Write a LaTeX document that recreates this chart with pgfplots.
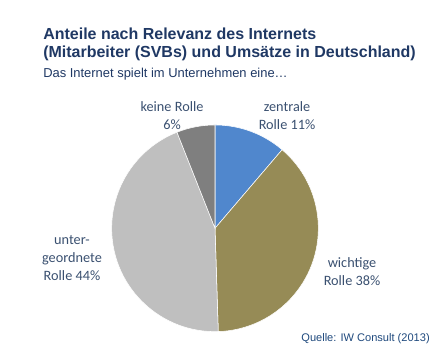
\documentclass[border=0pt]{standalone}
\usepackage{pgfplots}
\usepackage{pgfplotstable}
\pgfplotsset{compat=1.18}
\usepackage{fontspec}
\setmainfont{Liberation Sans}
\newfontfamily\calfont{Carlito}
\definecolor{cBlue}{RGB}{80,135,205}
\definecolor{cOlive}{RGB}{150,139,86}
\definecolor{cLight}{RGB}{191,191,191}
\definecolor{cDark}{RGB}{127,127,127}
\definecolor{titlec}{RGB}{31,56,100}
\definecolor{labc}{RGB}{58,80,112}
\definecolor{srcc}{RGB}{31,73,125}
\newcommand\slicecolor[1]{\ifcase#1 cBlue\or cOlive\or cLight\or cDark\fi}
\pgfdeclareplotmark{nothing}{}

% share in %, slice start/end angle (degrees, clockwise from 12 o'clock), colour index
\pgfplotstableread{
x   y     share a0     a1      ci
215 134.7 11    90     49.5    0
215 134.7 38    49.5   -88.2   1
215 134.7 44    -88.2  -248.4  2
215 134.7 6     -248.4 -270    3
}\pietable

\begin{document}
\begin{tikzpicture}
\begin{axis}[
  x=0.75pt, y=0.75pt,
  xmin=0, xmax=438, ymin=0, ymax=363,
  scale only axis, hide axis, clip=false,
]
\path (axis cs:0,0) rectangle (axis cs:438,363);
\addplot[
  scatter, only marks,
  mark=nothing,
  visualization depends on={\thisrow{a0} \as \aS},
  visualization depends on={\thisrow{a1} \as \aE},
  visualization depends on={\thisrow{ci} \as \cidx},
  scatter/@pre marker code/.code={%
    \pgfmathtruncatemacro\ci{\cidx}%
    \edef\slicecol{\slicecolor{\ci}}%
    \fill[fill=\slicecol, draw=white, line width=0.4pt, fill opacity=1, draw opacity=1]
      (0,0) -- (\aS:77.5pt) arc[start angle=\aS, end angle=\aE, radius=77.5pt] -- cycle;
    \scope
  },
  scatter/@post marker code/.code={\endscope},
] table[x=x, y=y] {\pietable};

% titles
\node[anchor=base west, font=\bfseries\fontsize{12}{14}\selectfont, text=titlec, inner sep=0pt]
  at (axis cs:43,{363-39.3}) {Anteile nach Relevanz des Internets};
\node[anchor=base west, font=\bfseries\fontsize{12}{14}\selectfont, text=titlec, inner sep=0pt]
  at (axis cs:43,{363-58}) {(Mitarbeiter (SVBs) und Umsätze in Deutschland)};
\node[anchor=base west, font=\fontsize{9.7}{11}\selectfont, text=titlec, inner sep=0pt]
  at (axis cs:43,{363-77.5}) {Das Internet spielt im Unternehmen eine…};

% slice labels
\node[align=center, font=\calfont\fontsize{10.7}{13.5}\selectfont, text=labc, inner sep=0pt]
  at (axis cs:172,{363-116}) {keine Rolle\\6\%};
\node[align=center, font=\calfont\fontsize{10.7}{13.5}\selectfont, text=labc, inner sep=0pt]
  at (axis cs:287,{363-116}) {zentrale\\Rolle 11\%};
\node[align=center, font=\calfont\fontsize{10.7}{13.5}\selectfont, text=labc, inner sep=0pt]
  at (axis cs:72,{363-258}) {unter-\\geordnete\\Rolle 44\%};
\node[align=center, font=\calfont\fontsize{10.7}{13.5}\selectfont, text=labc, inner sep=0pt]
  at (axis cs:352,{363-272}) {wichtige\\Rolle 38\%};

% source
\node[anchor=base east, font=\fontsize{8.3}{10}\selectfont, text=srcc, inner sep=0pt]
  at (axis cs:430,{363-341.7}) {Quelle: IW Consult (2013)};
\end{axis}
\end{tikzpicture}
\end{document}
